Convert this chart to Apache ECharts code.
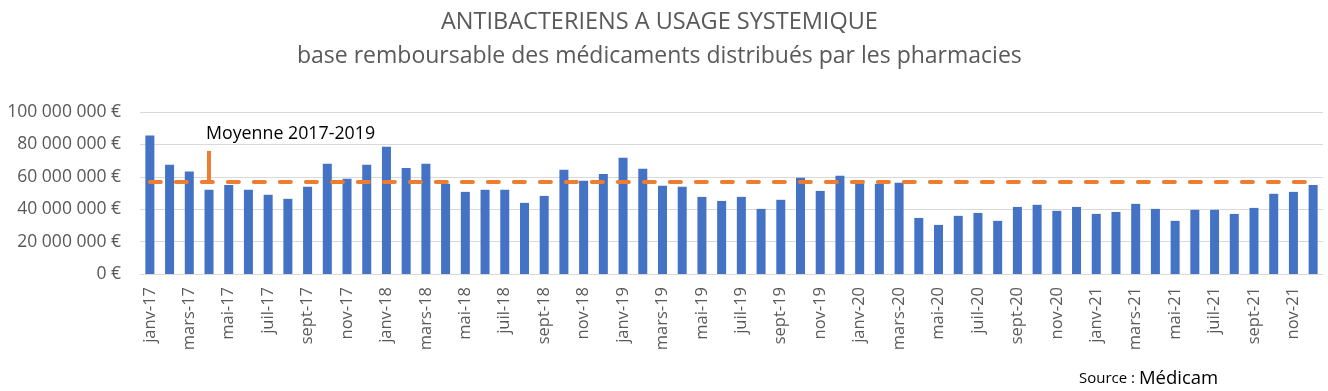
<!DOCTYPE html>
<html>
<head>
<meta charset="utf-8">
<script src="https://cdn.jsdelivr.net/npm/echarts@6/dist/echarts.min.js"></script>
<style>
html,body{margin:0;padding:0;background:#fff;}
#chart{width:1328px;height:391px;}
</style>
</head>
<body>
<div id="chart"></div>
<script>
// ---- data ----
const months = ['janv','févr','mars','avr','mai','juin','juil','août','sept','oct','nov','déc'];
const years = ['17','18','19','20','21'];
const categories = [];
years.forEach(y => months.forEach(m => categories.push(m + '-' + y)));

const values2017 = [85.5, 67.4, 63.3, 52.0, 55.0, 52.0, 48.9, 46.4, 53.8, 68.0, 58.8, 67.4];
const values2018 = [78.5, 65.5, 68.0, 55.7, 50.7, 52.0, 52.0, 43.9, 48.2, 64.3, 57.5, 61.8];
const values2019 = [71.7, 64.9, 54.4, 53.8, 47.6, 45.1, 47.6, 40.2, 45.8, 59.4, 51.3, 60.6];
const values2020 = [58.1, 55.7, 56.3, 34.6, 30.3, 35.9, 37.7, 32.8, 41.4, 42.7, 39.0, 41.4];
const values2021 = [37.1, 38.3, 43.3, 40.2, 32.8, 39.6, 39.6, 37.1, 40.8, 49.5, 50.7, 55.0];
// millions of euros
const baseRemboursable = [].concat(values2017, values2018, values2019, values2020, values2021).map(v => v * 1e6);
const moyenne2017_2019 = 57.1e6;
const moyenneLabel = 'Moyenne 2017-2019';
const moyenneLabelMonth = 'avr-17';
const moyenneLabelTop = 76e6;

const yTicks = {min: 0, max: 100e6, interval: 20e6};

function fmtEuro(v){
  const s = Math.round(v).toString().replace(/\B(?=(\d{3})+(?!\d))/g, ' ');
  return s + ' €';
}

const FONT = 'Open Sans';
const chart = echarts.init(document.getElementById('chart'));
chart.setOption({
  animation: false,
  backgroundColor: '#ffffff',
  textStyle: {fontFamily: FONT},
  title: [
    {text: 'ANTIBACTERIENS A USAGE SYSTEMIQUE', left: 436, top: 5,
     textStyle: {fontFamily: FONT, fontSize: 23.5, fontWeight: 'normal', color: '#595959'}},
    {text: 'base remboursable des médicaments distribués par les pharmacies', left: 292, top: 40,
     textStyle: {fontFamily: FONT, fontSize: 23, fontWeight: 'normal', color: '#595959'}},
    {text: '{a|Source : }{b|Médicam}', left: 1074, top: 364,
     textStyle: {fontWeight: 'normal', rich: {
       a: {fontFamily: FONT, fontSize: 15, color: '#000', fontWeight: 'normal'},
       b: {fontFamily: FONT, fontSize: 18.5, color: '#000', fontWeight: 'normal'}
     }}}
  ],
  grid: {left: 140, right: 5, top: 112, bottom: 117, containLabel: false},
  xAxis: {
    type: 'category',
    data: categories,
    axisLine: {lineStyle: {color: '#d9d9d9', width: 1}},
    axisTick: {show: false},
    axisLabel: {interval: 1, rotate: 90, margin: 13, fontSize: 16.5, color: '#595959', fontFamily: FONT}
  },
  yAxis: {
    type: 'value',
    min: yTicks.min, max: yTicks.max, interval: yTicks.interval,
    axisLine: {show: false},
    axisTick: {show: false},
    splitLine: {lineStyle: {color: '#d9d9d9', width: 1}},
    axisLabel: {formatter: fmtEuro, fontSize: 17.5, color: '#595959', margin: 19, fontFamily: FONT}
  },
  series: [
    {
      type: 'bar',
      data: baseRemboursable,
      barWidth: 9,
      itemStyle: {color: '#4472c4'},
      markLine: {
        silent: true,
        symbol: ['none', 'none'],
        label: {show: false},
        data: [
          [{xAxis: 0, yAxis: moyenne2017_2019, lineStyle: {color: '#ed7d31', width: 4, type: [11, 15], cap: 'round'}},
           {xAxis: categories.length - 1, yAxis: moyenne2017_2019}],
          [{xAxis: moyenneLabelMonth, yAxis: moyenne2017_2019, lineStyle: {color: '#ed7d31', width: 4, type: 'solid'}},
           {xAxis: moyenneLabelMonth, yAxis: moyenneLabelTop}]
        ]
      },
      markPoint: {
        silent: true,
        symbol: 'circle', symbolSize: 0,
        data: [{coord: [moyenneLabelMonth, moyenneLabelTop],
          label: {show: true, formatter: moyenneLabel, position: 'top', align: 'left', offset: [-3, -3],
                  fontSize: 17.8, color: '#000', fontFamily: FONT}}]
      }
    }
  ]
});
</script>
</body>
</html>
